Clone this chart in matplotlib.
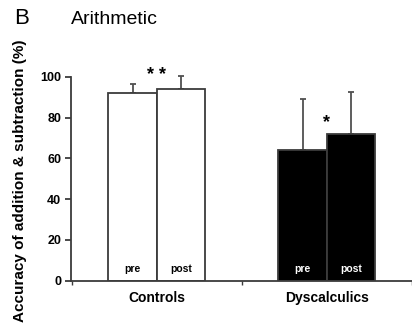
import numpy as np
import matplotlib
matplotlib.use("Agg")
import matplotlib.pyplot as plt

plt.rcParams['font.family'] = ['Liberation Sans', 'DejaVu Sans']

####### data ##########################################
groups = ["Controls", "Dyscalculics"]
sessions = ["pre", "post"]
pre_mean = [92.2, 64.1]
post_mean = [94.1, 72.1]
pre_sd = [4.2, 24.8]
post_sd = [6.2, 20.5]
stars = ["* *", "*"]

bar_fill = ["white", "black"]
text_col = ["black", "white"]
edge = "#3c3c3c"

################# PLOT ################################
fig = plt.figure(figsize=(4.12, 3.27), dpi=100)
ax = fig.add_axes([71/412, 0.1416, 1 - 71/412, 0.6238])

x = np.arange(len(groups))
w = 0.285
star_base = [98.5, 75.5]

for i in range(len(groups)):
    xs = [x[i] - w/2, x[i] + w/2]
    means = [pre_mean[i], post_mean[i]]
    sds = [pre_sd[i], post_sd[i]]
    ax.bar(xs, means, width=w, color=bar_fill[i], edgecolor=edge, linewidth=1.3, zorder=2)
    ax.errorbar(xs, means, yerr=[[0, 0], sds], fmt='none', ecolor="#505050",
                elinewidth=1.3, capsize=2.5, capthick=1.3, clip_on=False, zorder=1)
    for xx, lab in zip(xs, sessions):
        ax.text(xx, 3.5, lab, ha='center', va='bottom', fontsize=7.5,
                fontweight='bold', color=text_col[i], zorder=3)
    # significance marks between pre and post
    ax.text(x[i], star_base[i], stars[i], ha='center', va='baseline',
            fontsize=13, fontweight='bold', clip_on=False)

ax.set_xlim(-0.505, 1.47)
ax.set_ylim(0, 100)
ax.set_yticks([0, 20, 40, 60, 80, 100])
ax.set_xticks([-0.5, 0.5, 1.5])
ax.set_xticklabels([])
for i, g in enumerate(groups):
    ax.text(x[i], -5, g, ha='center', va='top', fontsize=10, fontweight='bold')

ax.spines['top'].set_visible(False)
ax.spines['right'].set_visible(False)
for s in ['left', 'bottom']:
    ax.spines[s].set_color(edge)
    ax.spines[s].set_linewidth(1.3)
ax.tick_params(axis='y', length=4, width=1.3, color=edge, labelsize=9, pad=3)
ax.tick_params(axis='x', length=3, width=1, color=edge)
for t in ax.get_yticklabels():
    t.set_fontweight('bold')

fig.text(20/412, 1 - 181/327, "Accuracy of addition & subtraction (%)", rotation=90,
         ha='center', va='center', fontsize=11, fontweight='bold')
fig.text(14/412, 1 - 18/327, "B", ha='left', va='center', fontsize=16)
fig.text(71/412, 1 - 20/327, "Arithmetic", ha='left', va='center', fontsize=14)

plt.savefig('out.png', dpi=100)
